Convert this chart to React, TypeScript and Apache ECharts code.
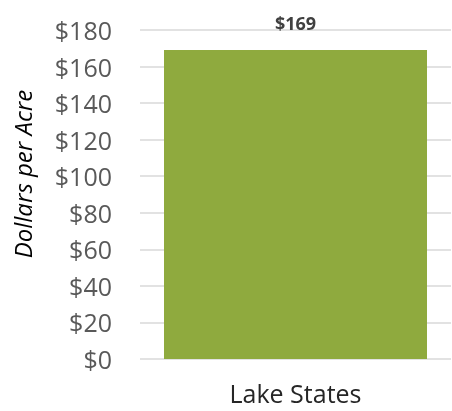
import React, { useEffect, useRef } from "react";
import * as echarts from "echarts";

const categories = ["Lake States"];
const values = [169];
const yTicks = { min: 0, max: 180, interval: 20 };
const yTitle = "Dollars per Acre";

export default function App() {
  const ref = useRef<HTMLDivElement>(null);
  useEffect(() => {
    if (!ref.current) return;
    const chart = echarts.init(ref.current, null, { renderer: "svg" });
    chart.setOption({
      animation: false,
      grid: { left: 140, right: 1, top: 30, bottom: 52 },
      xAxis: {
        type: "category",
        data: categories,
        axisLine: { show: false },
        axisTick: { show: false },
        axisLabel: {
          color: "#262626",
          fontFamily: "Open Sans",
          fontSize: 25,
          margin: 21,
        },
      },
      yAxis: {
        type: "value",
        min: yTicks.min,
        max: yTicks.max,
        interval: yTicks.interval,
        axisLine: { show: false },
        axisTick: { show: false },
        splitLine: { lineStyle: { color: "#d9d9d9", width: 1.5 } },
        axisLabel: {
          color: "#595959",
          fontFamily: "Open Sans",
          fontSize: 25,
          margin: 28,
          formatter: (v: number) => "$" + v,
        },
      },
      graphic: [
        {
          type: "text",
          x: 22,
          y: 174,
          rotation: Math.PI / 2,
          style: {
            text: yTitle,
            fontFamily: "Open Sans",
            fontStyle: "italic",
            fontSize: 24,
            fill: "#000000",
            align: "center",
            verticalAlign: "middle",
          },
        },
      ],
      series: [
        {
          type: "bar",
          data: values,
          barWidth: 263,
          itemStyle: { color: "#8faa3e" },
          label: {
            show: true,
            position: "top",
            distance: 18,
            formatter: (p: any) => "$" + p.value,
            color: "#404040",
            fontFamily: "Open Sans",
            fontWeight: "bold",
            fontSize: 18,
          },
        },
      ],
    });
    return () => chart.dispose();
  }, []);
  return (
    <div
      ref={ref}
      style={{ position: "fixed", left: 0, top: 0, width: 452, height: 411 }}
    />
  );
}
